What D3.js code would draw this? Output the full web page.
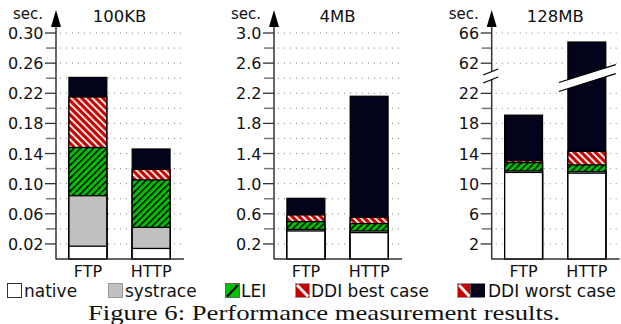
<!DOCTYPE html>
<html><head><meta charset="utf-8">
<script src="https://cdn.jsdelivr.net/npm/d3@7"></script>
<style>body{margin:0;background:#fff}svg{display:block}</style>
</head><body>
<svg id="c" width="621" height="324"></svg>
<script>
// ---- data ----
const categories = ["FTP", "HTTP"];
const panelTitles = ["100KB", "4MB", "128MB"];
const layerNames = ["native", "systrace", "LEI", "DDI best case", "DDI worst case"];
// cumulative run time (sec.) per configuration, [FTP, HTTP]
const native100KB   = [0.017, 0.014];
const systrace100KB = [0.084, 0.042];
const lei100KB      = [0.148, 0.105];
const ddiBest100KB  = [0.215, 0.119];
const ddiWorst100KB = [0.241, 0.146];

const native4MB   = [0.372, 0.350];
const systrace4MB = [0.392, 0.372];
const lei4MB      = [0.496, 0.470];
const ddiBest4MB  = [0.585, 0.554];
const ddiWorst4MB = [0.805, 2.160];

const native128MB   = [11.5, 11.4];
const systrace128MB = [11.7, 11.6];
const lei128MB      = [12.8, 12.5];
const ddiBest128MB  = [13.05, 14.3];
const ddiWorst128MB = [19.1, 64.8];

const majorTicks100KB = [0.02, 0.06, 0.10, 0.14, 0.18, 0.22, 0.26, 0.30];
const minorTicks100KB = [0.04, 0.08, 0.12, 0.16, 0.20, 0.24, 0.28];
const majorTicks4MB = [0.2, 0.6, 1.0, 1.4, 1.8, 2.2, 2.6, 3.0];
const minorTicks4MB = [0.4, 0.8, 1.2, 1.6, 2.0, 2.4, 2.8];
const majorTicks128MB = [2, 6, 10, 14, 18, 22, 62, 66];
const minorTicks128MB = [4, 8, 12, 16, 20, 64];

const captionText = "Figure 6: Performance measurement results.";

// ---- drawing ----
const svg = d3.select("#c");
const defs = svg.append("defs");
const NAVY = "#03031c", RED = "#c80000", GREEN = "#00c000", GRAY = "#c0c0c0";

function hatch(id, bg, fg, dir, period, w) {
  const p = defs.append("pattern").attr("id", id).attr("patternUnits", "userSpaceOnUse")
    .attr("width", period).attr("height", period)
    .attr("patternTransform", `rotate(${dir > 0 ? 45 : -45})`);
  p.append("rect").attr("width", period).attr("height", period).attr("fill", bg);
  p.append("line").attr("x1", w / 2).attr("y1", 0).attr("x2", w / 2).attr("y2", period)
    .attr("stroke", fg).attr("stroke-width", w);
}
hatch("lei", GREEN, "#000", 1, 4.6, 1.5);
hatch("ddi", RED, "#fff", -1, 5, 1.8);

const fills = ["#fff", GRAY, "url(#lei)", "url(#ddi)", NAVY];

const panels = [
  { x0: 56, title: panelTitles[0], layers: [native100KB, systrace100KB, lei100KB, ddiBest100KB, ddiWorst100KB],
    y: d3.scaleLinear().domain([0, 0.30]).range([259, 33]), major: majorTicks100KB, minor: minorTicks100KB,
    fmt: d3.format(".2f") },
  { x0: 274, title: panelTitles[1], layers: [native4MB, systrace4MB, lei4MB, ddiBest4MB, ddiWorst4MB],
    y: d3.scaleLinear().domain([0, 3.0]).range([259, 33]), major: majorTicks4MB, minor: minorTicks4MB,
    fmt: d3.format(".1f") },
  { x0: 491.7, title: panelTitles[2], layers: [native128MB, systrace128MB, lei128MB, ddiBest128MB, ddiWorst128MB],
    y: d3.scaleLinear().domain([0, 24, 60, 66]).range([259, 78.3, 78.3, 33]), major: majorTicks128MB, minor: minorTicks128MB,
    fmt: d3.format("d"), brk: true }
];

const font = "DejaVu Sans, sans-serif";

panels.forEach(P => {
  const g = svg.append("g");
  const x = d3.scaleBand().domain(categories).range([P.x0, P.x0 + 127]).paddingInner(0.402).paddingOuter(0.205);
  const xEnd = P.x0 + 127;
  const allTicks = P.major.concat(P.minor);
  // dotted grid
  g.selectAll("line.grid").data(allTicks).join("line")
    .attr("x1", P.x0 + 4).attr("x2", xEnd).attr("y1", d => P.y(d)).attr("y2", d => P.y(d))
    .attr("stroke", "#808080").attr("stroke-width", 1).attr("stroke-dasharray", "1,5");
  // bars: draw largest (worst) first, native last
  for (let li = P.layers.length - 1; li >= 0; li--) {
    g.selectAll(null).data(P.layers[li]).join("rect")
      .attr("x", (d, i) => x(categories[i])).attr("width", x.bandwidth())
      .attr("y", d => P.y(d)).attr("height", d => P.y(0) - P.y(d))
      .attr("fill", fills[li]).attr("stroke", "#000").attr("stroke-width", 1.3);
  }
  // ticks
  g.selectAll("line.mt").data(P.minor).join("line")
    .attr("x1", P.x0 - 10).attr("x2", P.x0).attr("y1", d => P.y(d)).attr("y2", d => P.y(d))
    .attr("stroke", "#777").attr("stroke-width", 1.5);
  g.selectAll("line.Mt").data(P.major).join("line")
    .attr("x1", P.x0 - 11).attr("x2", P.x0).attr("y1", d => P.y(d)).attr("y2", d => P.y(d))
    .attr("stroke", "#333").attr("stroke-width", 1.3);
  g.selectAll("text.tl").data(P.major).join("text")
    .attr("x", P.x0 - 12.5).attr("y", d => P.y(d) + 6).attr("text-anchor", "end")
    .attr("font-family", font).attr("font-size", 16).attr("fill", "#111").text(P.fmt);
  // axes
  g.append("line").attr("x1", P.x0).attr("x2", P.x0).attr("y1", 20).attr("y2", 259.5)
    .attr("stroke", "#333").attr("stroke-width", 1.5);
  g.append("line").attr("x1", P.x0).attr("x2", xEnd + 1).attr("y1", 259).attr("y2", 259)
    .attr("stroke", "#333").attr("stroke-width", 1.5);
  g.append("path").attr("d", `M${P.x0},10L${P.x0 - 5},27L${P.x0 + 5},27Z`).attr("fill", "#000");
  g.append("text").attr("x", P.x0 - 13).attr("y", 19).attr("text-anchor", "end")
    .attr("font-family", font).attr("font-size", 15).attr("fill", "#111").text("sec.");
  g.append("text").attr("x", P.x0 + 63.5).attr("y", 22).attr("text-anchor", "middle")
    .attr("font-family", font).attr("font-size", 16.5).attr("fill", "#111").text(P.title);
  g.selectAll("text.xl").data(categories).join("text")
    .attr("x", d => x(d) + x.bandwidth() / 2).attr("y", 277).attr("text-anchor", "middle")
    .attr("font-family", font).attr("font-size", 16).attr("fill", "#111").text(d => d);
  if (P.brk) {
    const ax = P.x0, ay = 76;
    const band = (x1, x2, yL, slope, h, lw) => {
      const yR = yL + slope * (x2 - x1);
      g.append("path").attr("d", `M${x1},${yL}L${x2},${yR}L${x2},${yR + h}L${x1},${yL + h}Z`).attr("fill", "#fff");
      g.append("line").attr("x1", x1).attr("y1", yL).attr("x2", x2).attr("y2", yR).attr("stroke", "#000").attr("stroke-width", lw);
      g.append("line").attr("x1", x1).attr("y1", yL + h).attr("x2", x2).attr("y2", yR + h).attr("stroke", "#000").attr("stroke-width", lw);
    };
    band(ax - 8.5, ax + 6.5, ay - 1, -0.4, 8, 1.3);
    const bx = x("HTTP");
    band(bx - 9, bx + x.bandwidth() + 10, 82.5, -0.316, 9, 1.3);
  }
});

// legend
const lg = svg.append("g").attr("font-family", font).attr("font-size", 17).attr("fill", "#111");
const boxX = [7, 108, 225, 295, 457];
const BY = 283.5, BS = 14;
function legBox(x, fill, stroke, w) {
  lg.append("rect").attr("x", x + 0.5).attr("y", BY).attr("width", w || BS).attr("height", BS)
    .attr("fill", fill).attr("stroke", stroke).attr("stroke-width", 1);
}
legBox(boxX[0], "#fff", "#333");
legBox(boxX[1], GRAY, "#999");
legBox(boxX[2], GREEN, "#666");
lg.append("line").attr("x1", boxX[2] + 2).attr("y1", BY + BS - 1).attr("x2", boxX[2] + BS - 1).attr("y2", BY + 1.5).attr("stroke", "#000").attr("stroke-width", 2.2);
legBox(boxX[3], RED, "#999");
lg.append("line").attr("x1", boxX[3] + 2).attr("y1", BY + 1.5).attr("x2", boxX[3] + BS - 1).attr("y2", BY + BS - 1).attr("stroke", "#fff").attr("stroke-width", 2.8);
legBox(boxX[4], RED, "#999", 13);
lg.append("line").attr("x1", boxX[4] + 2).attr("y1", BY + 1.5).attr("x2", boxX[4] + 12.5).attr("y2", BY + BS - 1).attr("stroke", "#fff").attr("stroke-width", 2.8);
lg.append("rect").attr("x", boxX[4] + 13.5).attr("y", BY).attr("width", 14.5).attr("height", BS).attr("fill", NAVY);
const textX = [24, 125, 241, 311, 488];
layerNames.forEach((n, i) => {
  lg.append("text").attr("x", textX[i]).attr("y", 297).text(n);
});

svg.append("text").attr("x", 88).attr("y", 319.5)
  .attr("font-family", "Liberation Serif, serif").attr("font-size", 22).attr("fill", "#111")
  .attr("textLength", 472).attr("lengthAdjust", "spacingAndGlyphs")
  .text(captionText);
</script>
</body></html>
